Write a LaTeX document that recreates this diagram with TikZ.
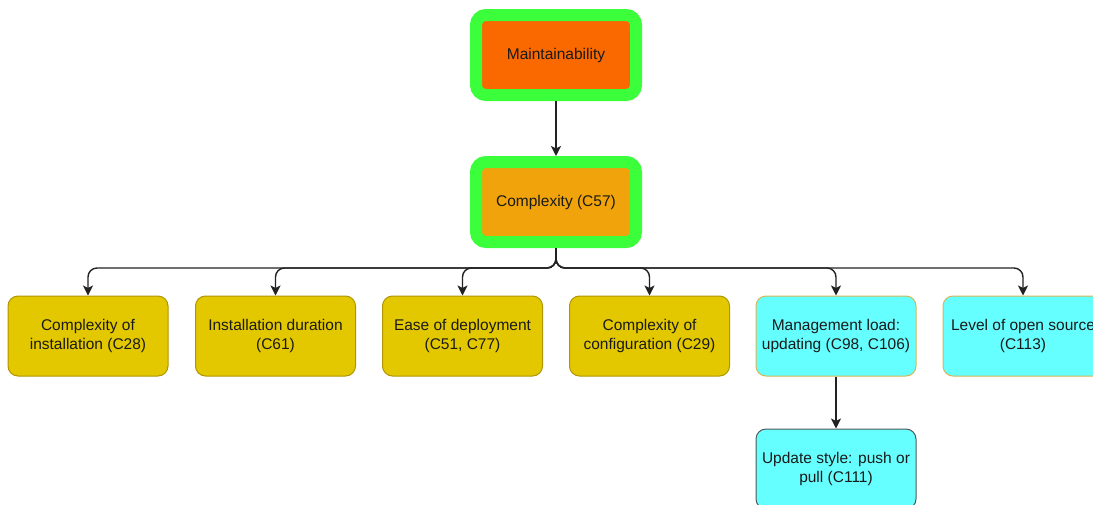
\documentclass[tikz,border=0pt]{standalone}
\usepackage{fontspec}
\setmainfont{Liberation Sans}
\usetikzlibrary{arrows.meta}

\definecolor{lime}{HTML}{3CFF3C}
\definecolor{orangefill}{HTML}{FA6800}
\definecolor{amber}{HTML}{F0A30A}
\definecolor{gold}{HTML}{E3C800}
\definecolor{golddk}{HTML}{B09500}
\definecolor{aqua}{HTML}{66FFFF}
\definecolor{aquabd}{HTML}{D6B656}
\definecolor{aquadk}{HTML}{4D5A5A}
\definecolor{txt}{HTML}{1A1A1A}
\definecolor{conn}{HTML}{222222}

\begin{document}
\begin{tikzpicture}[x=1pt,y=-1pt,
  label font/.style={font=\fontsize{15.5}{19}\selectfont, text=txt, align=center},
  head/.style={rectangle, rounded corners=10pt, draw=lime, line width=12pt,
    minimum width=160pt, minimum height=80pt, label font},
  leaf/.style={rectangle, rounded corners=10pt, line width=1pt,
    minimum width=160pt, minimum height=80pt, inner sep=1pt, label font},
  goldbox/.style={leaf, fill=gold, draw=golddk},
  aquabox/.style={leaf, fill=aqua, draw=aquabd},
  aquadark/.style={leaf, fill=aqua, draw=aquadk},
  arr/.style={draw=conn, line width=1.4pt, rounded corners=9pt,
    -{Stealth[length=10pt,width=10pt,inset=2.5pt]}}]

  \useasboundingbox (0,0) rectangle (1093,504);
  \clip (0,0) rectangle (1093,504);
  \fill[white] (0,0) rectangle (1093,504);

  % top of the hierarchy
  \node[head, fill=orangefill] (main) at (556,55) {Maintainability};
  \node[head, fill=amber] (cx) at (556,202) {Complexity (C57)};

  % second level
  \node[goldbox] (c28) at (88,336)   {Complexity of\\installation (C28)};
  \node[goldbox] (c61) at (275.5,336) {Installation duration\\(C61)};
  \node[goldbox] (c51) at (462.5,336) {Ease of deployment\\(C51, C77)};
  \node[goldbox] (c29) at (649.5,336) {Complexity of\\configuration (C29)};
  \node[aquabox] (c98) at (836,336)  {Management load:\\updating (C98, C106)};
  \node[aquabox] (c113) at (1023,336) {Level of open source\\(C113)};

  % third level
  \node[aquadark] (c111) at (836,469) {Update style: push or\\pull (C111)};

  % connectors
  \coordinate (bus) at (0,268);
  \draw[arr] (main.south) -- (cx.north);
  \foreach \b in {c28,c61,c51,c29,c98,c113}
    \draw[arr] (cx.south) -- (cx.south |- bus) -- (\b.north |- bus) -- (\b.north);
  \draw[arr] (c98.south) -- (c111.north);
\end{tikzpicture}
\end{document}
